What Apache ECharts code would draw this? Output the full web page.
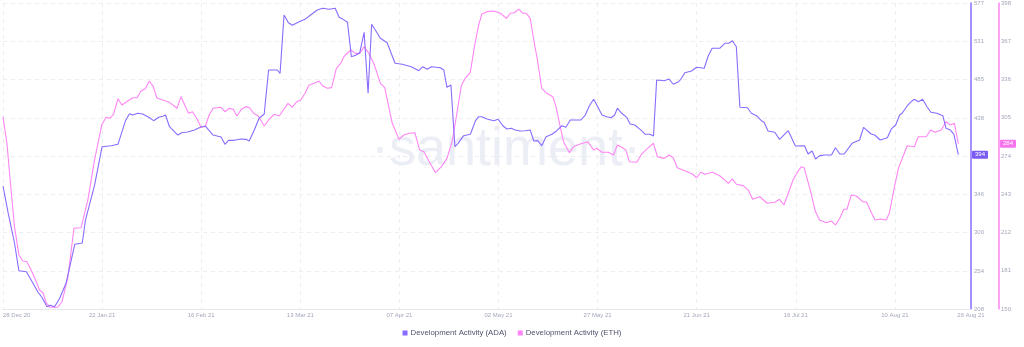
<!DOCTYPE html>
<html><head><meta charset="utf-8">
<script src="https://cdn.jsdelivr.net/npm/echarts@6/dist/echarts.min.js"></script>
<style>html,body{margin:0;padding:0;background:#fff}#c{width:1024px;height:347px}</style>
</head><body><div id="c"></div>
<script>
const START = Date.UTC(2020, 11, 28);
const DAY = 86400000;

const seriesNames = ['Development Activity (ADA)', 'Development Activity (ETH)'];

// days after 28 Dec 2020
const adaDays = [0,1.3,2.9,4.0,5.9,7.1,8.8,9.9,11.1,11.9,
13.0,14.3,15.9,18.1,20.0,20.8,23.1,25.0,27.3,29.0,
30.9,31.9,32.7,34.0,35.2,36.8,38.0,39.3,40.3,41.0,
42.0,44.1,45.1,46.6,48.3,49.5,51.0,53.0,55.0,56.0,
56.9,58.3,60.0,61.3,62.1,63.4,64.6,65.9,67.0,69.2,
69.9,70.9,72.0,73.0,74.7,76.2,77.6,79.3,80.6,82.3,
83.8,84.8,85.8,86.9,87.9,89.1,90.0,91.1,92.1,93.0,
94.2,95.2,96.9,98.9,100.7,103.0,104.9,105.9,107.0,108.1,
110.3,111.2,112.0,113.0,114.0,114.8,116.2,117.9,119.2,120.0,
120.8,122.1,123.8,124.9,126.1,127.1,128.2,129.2,130.5,131.7,
133.0,133.9,134.9,135.9,137.0,138.5,139.7,141.0,142.0,143.1,
145.8,146.9,147.9,149.0,150.1,151.1,152.3,153.4,154.3,155.0,
156.1,157.4,158.2,159.4,160.4,161.1,162.0,163.2,164.1,164.9,
166.8,168.0,169.1,170.2,171.0,172.0,173.7,175.0,176.9,177.9,
178.9,180.8,182.1,183.1,184.0,185.0,185.9,187.8,188.8,190.1,
191.3,192.0,193.0,194.7,195.9,198.1,199.9,202.2,203.1,204.1,
205.0,206.0,207.3,209.0,210.0,211.1,212.2,214.2,216.1,217.1,
219.0,219.9,221.3,223.1,224.1,225.2,226.2,226.8,228.1,229.1,
229.9,230.9,232.0,233.1,234.1,235.6,237.1,237.9,239.0,239.9,
241];
const adaVals = [356.3,323.8,287.6,254.2,253.0,243.0,228.5,221.6,210.8,212.5,
210.8,220.9,239.0,286.0,287.6,315.3,357.5,403.7,404.9,406.6,
435.1,443.5,441.9,444.0,443.1,439.2,435.1,439.2,440.4,441.9,
427.8,417.8,420.6,421.4,423.8,426.6,428.7,417.8,415.4,406.6,
411.4,411.4,413.0,412.6,410.6,423.8,438.0,443.1,496.2,496.2,
492.2,562.5,553.2,550.1,554.4,557.3,562.5,568.6,570.6,569.4,
570.6,559.8,557.3,553.7,512.2,514.3,517.1,541.7,468.1,551.3,
542.4,534.4,529.1,504.3,503.1,500.2,495.4,500.2,497.0,500.2,
499.0,496.2,475.3,478.1,403.7,407.8,417.0,418.7,435.1,439.9,
439.9,437.1,435.1,436.8,429.0,425.1,425.9,423.8,422.6,423.0,
423.8,410.6,411.0,404.9,415.8,418.7,423.0,429.0,427.1,435.9,
435.9,441.9,452.8,460.9,451.2,441.9,439.9,438.7,441.9,450.0,
444.0,438.7,431.1,429.9,425.9,423.0,418.7,418.7,416.6,484.1,
483.3,485.4,479.0,481.4,485.0,492.9,495.0,499.5,498.3,513.1,
522.4,522.4,528.4,528.4,531.5,524.3,451.2,450.7,444.0,441.1,
435.1,433.1,422.6,421.1,412.6,423.0,404.6,404.9,394.9,398.5,
388.9,392.9,393.7,393.7,402.5,394.9,394.9,407.8,411.8,427.1,
419.0,417.8,411.8,414.6,425.1,429.9,441.9,444.0,452.8,458.0,
460.9,458.0,460.9,451.9,445.2,444.0,441.1,425.9,423.8,418.7,
394];

const ethDays = [0,1.0,1.8,2.9,4.0,5.0,6.0,7.1,8.4,9.2,
10.1,10.9,11.8,13.8,14.9,16.4,17.9,19.7,21.4,23.1,
24.9,26.0,27.0,27.9,29.0,30.0,31.5,32.7,33.8,34.8,
35.9,36.9,37.9,38.8,40.3,42.0,43.9,44.9,46.8,47.8,
49.1,49.9,51.0,52.0,53.0,55.0,56.0,57.1,58.1,59.0,
60.2,61.3,62.3,63.2,64.4,65.9,67.0,68.4,69.7,70.7,
71.9,73.0,74.1,75.1,76.2,77.2,78.5,79.7,80.6,81.8,
82.9,84.1,85.2,86.0,87.7,88.9,90.0,91.1,92.3,93.6,
95.2,96.3,98.2,99.9,101.1,102.5,103.9,105.1,106.2,107.4,
109.1,110.6,112.0,113.3,114.3,115.6,116.6,117.9,119.0,120.0,
120.8,122.1,123.8,125.5,127.0,128.0,129.0,130.1,131.1,132.0,
133.0,133.9,134.9,135.9,137.0,138.7,139.5,140.3,141.4,142.9,
143.9,145.4,147.5,149.0,149.8,151.1,152.7,154.0,155.0,156.3,
157.1,158.0,159.9,161.1,162.6,164.1,165.1,166.8,168.0,169.1,
170.1,172.0,173.9,175.0,176.0,177.1,179.0,180.8,182.1,183.0,
184.0,185.0,186.7,188.0,189.1,190.9,192.8,194.7,195.9,197.0,
198.1,199.3,200.6,201.4,202.1,203.8,204.9,206.0,207.7,209.0,
210.0,211.1,212.1,212.9,214.0,215.3,216.9,217.9,219.0,220.0,
221.3,222.8,223.6,224.9,225.9,228.1,229.9,230.9,232.9,234.0,
235.1,236.7,237.9,239.0,240.0,241];
const ethVals = [305.8,284.3,254.5,216.7,193.8,188.9,188.3,181.6,172.1,165.4,
163.2,155.1,151.4,151.4,155.9,176.2,215.4,215.9,238.3,270.8,
299.1,305.4,304.6,308.0,320.4,315.3,318.6,321.2,321.2,326.7,
328.5,334.8,330.2,321.2,319.4,317.5,312.7,322.1,308.6,309.9,
303.2,297.7,297.7,307.2,312.7,313.5,309.9,312.7,311.8,306.4,
312.1,314.0,312.9,308.6,306.4,298.3,303.2,307.8,306.4,311.3,
316.7,313.5,318.0,319.4,324.8,331.5,332.9,334.8,331.0,328.9,
329.4,345.1,349.1,354.5,359.9,357.2,357.2,362.6,357.2,348.6,
332.9,329.4,300.5,287.5,291.0,292.4,292.9,278.9,277.5,270.2,
260.5,265.3,272.1,285.6,304.6,330.7,337.0,341.8,364.0,380.2,
389.0,391.0,391.5,389.7,385.6,389.7,390.1,393.1,389.7,389.7,
385.6,368.0,350.4,328.9,325.3,322.1,314.0,301.8,285.6,276.7,
281.5,283.5,285.6,278.9,280.2,277.0,277.0,274.8,282.9,280.7,
278.9,269.4,268.9,275.6,280.2,284.3,273.4,272.1,274.8,272.6,
264.5,262.1,259.4,256.4,260.8,259.2,260.8,258.0,254.5,251.9,
255.4,251.1,250.0,246.4,238.9,241.0,235.7,236.5,238.9,234.3,
243.8,254.5,261.8,265.3,264.5,244.6,229.4,222.1,219.9,221.3,
218.1,223.5,230.8,230.8,242.4,241.6,237.0,236.5,228.4,222.1,
223.0,222.1,227.6,249.1,264.0,282.3,281.5,289.6,289.6,295.1,
293.2,295.1,301.8,299.1,300.5,284];

const xTickDays = [0,25,50,75,100,125,150,175,200,225];
const xLastLabelDay = 241;
const adaTicks = [208,254,300,346,392,438,485,531,577];
const ethTicks = [150,181,212,243,274,305,336,367,398];

const MONTHS = ['Jan','Feb','Mar','Apr','May','Jun','Jul','Aug','Sep','Oct','Nov','Dec'];
function fmtDay(day){
  const d = new Date(START + Math.round(day) * DAY);
  return String(d.getUTCDate()).padStart(2,'0') + ' ' + MONTHS[d.getUTCMonth()] + ' ' + String(d.getUTCFullYear()).slice(2);
}
const X_MAX = 244.2;

const ADA_C = '#8a6bff', ETH_C = '#ff85f5';
const FONT = 'Liberation Sans, Arial, sans-serif';

const chart = echarts.init(document.getElementById('c'), null, {renderer: 'canvas'});
chart.setOption({
  animation: false,
  backgroundColor: '#ffffff',
  grid: {left: 0, right: 53, top: 3, bottom: 38, containLabel: false},
  graphic: [{
    type: 'text', x: 506, y: 150, z: 0, silent: true,
    style: {text: '\u00b7santiment\u00b7', font: '54px ' + FONT, fill: '#eceef6', textAlign: 'center', textVerticalAlign: 'middle'}
  }],
  legend: {
    bottom: 5, left: 'center', itemWidth: 5, itemHeight: 5, itemGap: 11, icon: 'rect',
    textStyle: {fontSize: 7.8, color: '#50546e', fontFamily: FONT, padding: [0,0,0,-2]},
    data: seriesNames
  },
  xAxis: {
    type: 'value', min: 0, max: X_MAX,
    axisLine: {show: true, onZero: false, lineStyle: {color: '#e6e8ee', width: 1}},
    axisTick: {show: false, customValues: xTickDays},
    splitLine: {show: true, lineStyle: {color: '#eceef3', type: [4, 4], width: 1}},
    axisPointer: {show: false},
    axisLabel: {
      customValues: xTickDays.concat([X_MAX]),
      fontSize: 6, color: '#a3a8ba', fontFamily: FONT, margin: 3, alignMinLabel: 'left',
      formatter: v => fmtDay(v >= X_MAX - 0.5 ? xLastLabelDay : v)
    }
  },
  yAxis: [{
    type: 'value', position: 'right', min: 208, max: 577,
    axisLine: {show: true, onZero: false, lineStyle: {color: ADA_C, width: 1.5}},
    axisTick: {show: false, customValues: adaTicks},
    splitLine: {show: true, lineStyle: {color: '#eceef3', type: [4, 4], width: 1}},
    axisLabel: {customValues: adaTicks, fontSize: 6, color: '#a3a8ba', fontFamily: FONT, margin: 3},
    axisPointer: {
      show: true, status: 'show', value: adaVals[adaVals.length - 1], type: 'line', triggerTooltip: false,
      lineStyle: {opacity: 0},
      label: {show: true, formatter: p => String(Math.round(p.value)), backgroundColor: '#7b5cf2', color: '#fff', fontSize: 6, fontFamily: FONT, padding: [1, 3, 1, 3], margin: 1, borderRadius: 1}
    }
  }, {
    type: 'value', position: 'right', offset: 28, min: 150, max: 398,
    axisLine: {show: true, onZero: false, lineStyle: {color: ETH_C, width: 1.5}},
    axisTick: {show: false, customValues: ethTicks},
    splitLine: {show: false},
    axisLabel: {customValues: ethTicks, fontSize: 6, color: '#a3a8ba', fontFamily: FONT, margin: 2},
    axisPointer: {
      show: true, status: 'show', value: ethVals[ethVals.length - 1], type: 'line', triggerTooltip: false,
      lineStyle: {opacity: 0},
      label: {show: true, formatter: p => String(Math.round(p.value)), backgroundColor: '#f774ef', color: '#fff', fontSize: 6, fontFamily: FONT, padding: [1, 3, 1, 3], margin: 1, borderRadius: 1}
    }
  }],
  series: [{
    name: seriesNames[0], type: 'line', yAxisIndex: 0, showSymbol: false, z: 3,
    itemStyle: {color: ADA_C}, lineStyle: {color: ADA_C, width: 1.1},
    data: adaDays.map((d, i) => [d, adaVals[i]])
  }, {
    name: seriesNames[1], type: 'line', yAxisIndex: 1, showSymbol: false, z: 2,
    itemStyle: {color: ETH_C}, lineStyle: {color: ETH_C, width: 1.1},
    data: ethDays.map((d, i) => [d, ethVals[i]])
  }]
});
</script></body></html>
